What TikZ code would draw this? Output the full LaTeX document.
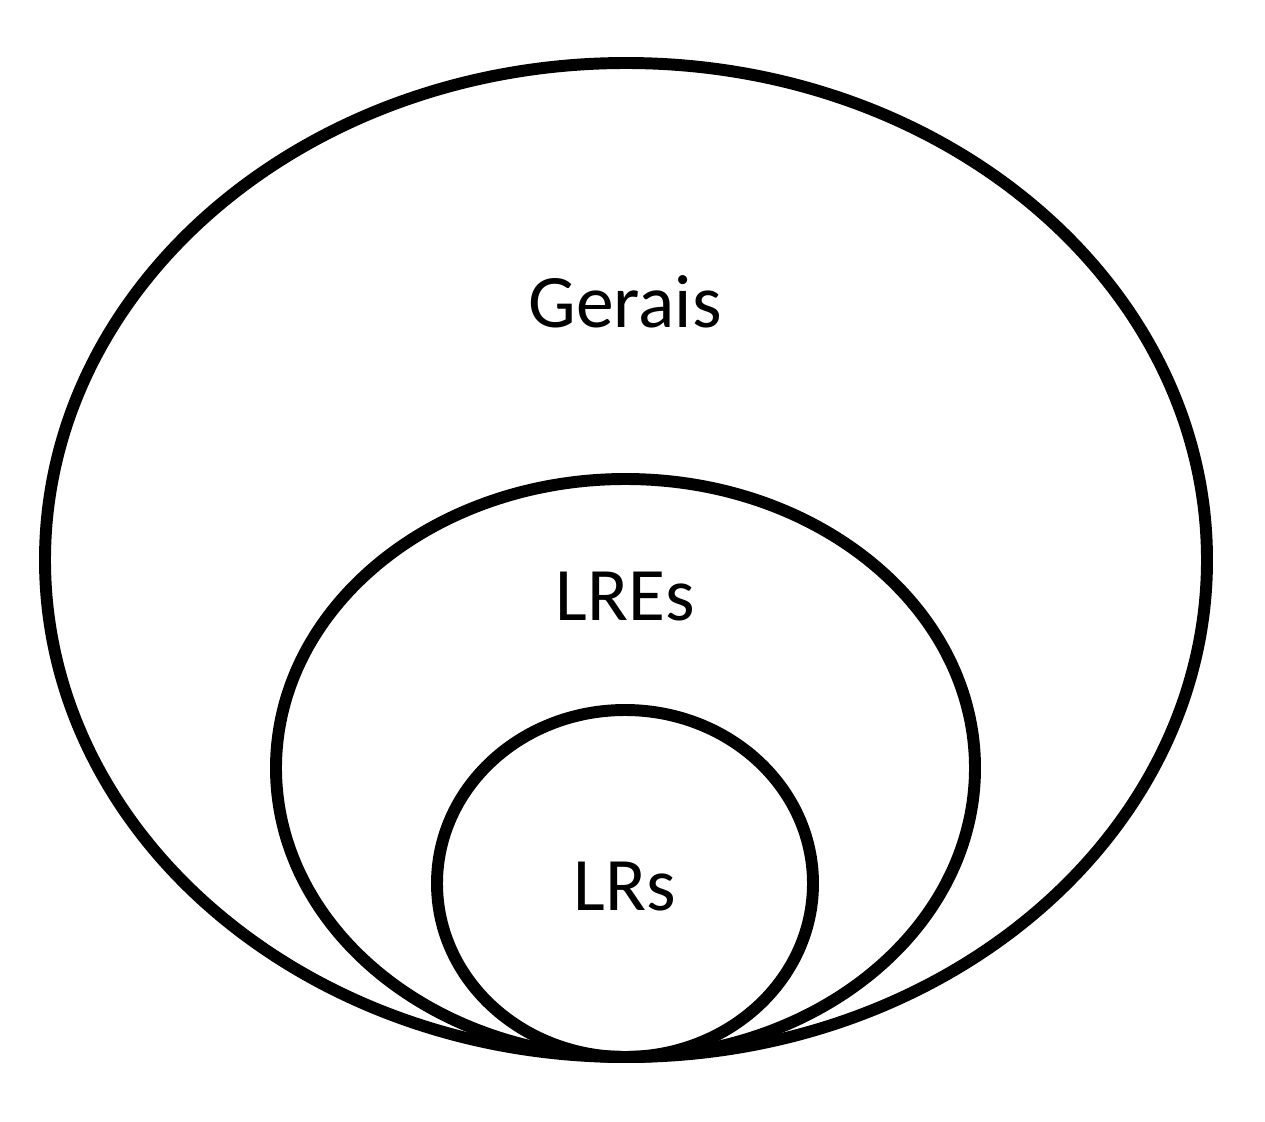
\documentclass[tikz,border=0pt]{standalone}
\usepackage{fontspec}
\setmainfont{Carlito}
\usetikzlibrary{calc}

\begin{document}
\begin{tikzpicture}[x=0.02cm, y=-0.02cm]
\tikzset{
  set/.style={draw=black, line width=6.8pt},
  setname/.style={font=\fontsize{43}{50}\selectfont, inner sep=0}
}
\useasboundingbox (0,0) rectangle (1265,1122);
\draw[set] (626,560) ellipse [x radius=581, y radius=497];
\draw[set] (625.5,768) ellipse [x radius=349.5, y radius=289];
\draw[set] (625,883.5) ellipse [x radius=188, y radius=173.5];
\node[setname] (gerais) at (625,302) {Gerais};
\node[setname] (lres) at (625,597) {LREs};
\node[setname] (lrs) at (625,887) {LRs};
\end{tikzpicture}
\end{document}
